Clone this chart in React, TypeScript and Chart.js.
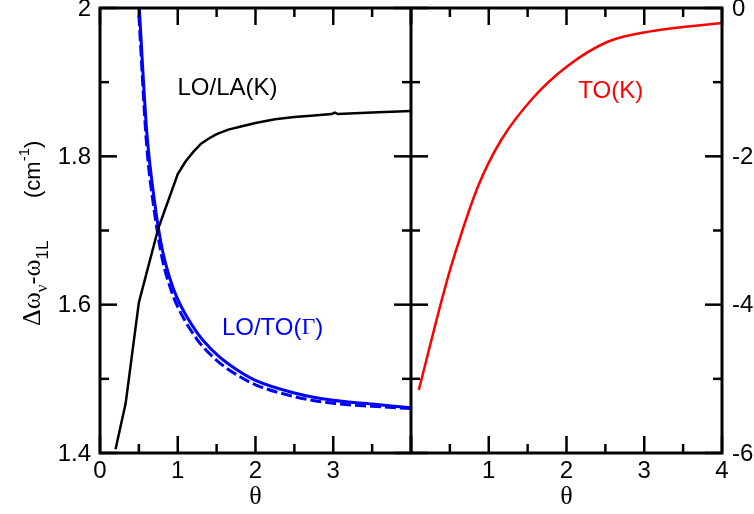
import React, { useEffect, useRef } from 'react';
import { Chart, registerables } from 'chart.js';

Chart.register(...registerables);

// ---- data (left panel: LO/LA(K), LO/TO(Γ); right panel: TO(K)) ----
const laTheta = [0.2, 0.33, 0.5, 0.75, 1.0, 1.1, 1.2, 1.3, 1.4, 1.5, 1.65, 1.8, 2.0, 2.25, 2.5, 2.75, 2.98, 3.02, 3.06, 3.5, 4.0];
const laValues = [1.405, 1.467, 1.603, 1.703, 1.776, 1.793, 1.806, 1.817, 1.824, 1.83, 1.836, 1.84, 1.845, 1.85, 1.853, 1.855, 1.857, 1.859, 1.857, 1.859, 1.861];

const gammaTheta = [0.5, 0.6, 0.7, 0.8, 0.9, 1.0, 1.25, 1.5, 1.75, 2.0, 2.5, 3.0, 3.5, 4.0];
const gammaSolid = [2.01, 1.835, 1.74, 1.675, 1.635, 1.607, 1.562, 1.533, 1.513, 1.498, 1.481, 1.471, 1.466, 1.461];
const gammaDashed = [1.99, 1.815, 1.725, 1.662, 1.624, 1.597, 1.553, 1.525, 1.506, 1.492, 1.476, 1.467, 1.463, 1.46];

const toKTheta = [0.1, 0.42, 0.54, 0.86, 1.16, 1.58, 2.01, 2.53, 3.08, 4.0];
const toKValues = [-5.15, -3.84, -3.4, -2.41, -1.78, -1.2, -0.785, -0.455, -0.315, -0.202];

// ---- ticks ----
const xTickLabels = ['0', '1', '2', '3', '', '1', '2', '3', '4'];
const leftYTickLabels = ['1.4', '1.6', '1.8', '2'];
const rightYTickLabels = ['-6', '-4', '-2', '0'];
const thetaMajor = [0, 1, 2, 3, 4];
const thetaMinor = [0.5, 1.5, 2.5, 3.5];
const leftYMajor = [1.4, 1.6, 1.8, 2.0];
const leftYMinor = [1.5, 1.7, 1.9];
const rightYMajor = [-6, -4, -2, 0];
const rightYMinor = [-5, -3, -1];

const SANS = '"Liberation Sans", Arial, sans-serif';
const SERIF = '"Liberation Serif", "Times New Roman", serif';
const BLUE = '#0000ff';
const RED = '#ff0000';

type Seg = { t: string; font: string; dy?: number };

function drawSegs(ctx: CanvasRenderingContext2D, segs: Seg[], x: number, y: number, align: 'center' | 'left') {
  let total = 0;
  for (const s of segs) {
    ctx.font = s.font;
    total += ctx.measureText(s.t).width;
  }
  let cx = align === 'center' ? x - total / 2 : x;
  ctx.textAlign = 'left';
  for (const s of segs) {
    ctx.font = s.font;
    ctx.fillText(s.t, cx, y + (s.dy || 0));
    cx += ctx.measureText(s.t).width;
  }
}

const framePlugin = {
  id: 'frameTicks',
  afterDatasetsDraw(chart: any) {
    const { ctx, chartArea } = chart;
    const { left, right, top, bottom } = chartArea;
    const x = chart.scales.x;
    const x2 = chart.scales.x2;
    const y = chart.scales.y;
    const y2 = chart.scales.y2;
    const mid = x.getPixelForValue(4);
    const MAJ = 17;
    const MIN = 9;
    ctx.save();
    ctx.strokeStyle = '#000';
    ctx.lineCap = 'butt';
    ctx.lineWidth = 2.5;
    const seg = (ax: number, ay: number, bx: number, by: number) => {
      ctx.beginPath();
      ctx.moveTo(ax, ay);
      ctx.lineTo(bx, by);
      ctx.stroke();
    };
    for (const sc of [x, x2]) {
      for (const v of thetaMajor) {
        const px = sc.getPixelForValue(v);
        seg(px, bottom, px, bottom - MAJ);
        seg(px, top, px, top + MAJ);
      }
      for (const v of thetaMinor) {
        const px = sc.getPixelForValue(v);
        seg(px, bottom, px, bottom - MIN);
        seg(px, top, px, top + MIN);
      }
    }
    for (const v of leftYMajor) {
      const py = y.getPixelForValue(v);
      seg(left, py, left + MAJ, py);
      seg(mid, py, mid - MAJ, py);
    }
    for (const v of leftYMinor) {
      const py = y.getPixelForValue(v);
      seg(left, py, left + MIN, py);
      seg(mid, py, mid - MIN, py);
    }
    for (const v of rightYMajor) {
      const py = y2.getPixelForValue(v);
      seg(mid, py, mid + MAJ, py);
      seg(right, py, right - MAJ, py);
    }
    for (const v of rightYMinor) {
      const py = y2.getPixelForValue(v);
      seg(mid, py, mid + MIN, py);
      seg(right, py, right - MIN, py);
    }
    ctx.lineWidth = 3;
    ctx.strokeRect(left, top, right - left, bottom - top);
    seg(mid, top, mid, bottom);

    // annotations
    ctx.textBaseline = 'middle';
    ctx.fillStyle = '#000';
    drawSegs(ctx, [{ t: 'LO/LA(K)', font: `24px ${SANS}` }], x.getPixelForValue(1.64), y.getPixelForValue(1.8915), 'center');
    ctx.fillStyle = BLUE;
    drawSegs(
      ctx,
      [
        { t: 'LO/TO(', font: `24px ${SANS}` },
        { t: 'Γ', font: `24px ${SERIF}` },
        { t: ')', font: `24px ${SANS}` },
      ],
      x.getPixelForValue(2.22),
      y.getPixelForValue(1.5685),
      'center'
    );
    ctx.fillStyle = RED;
    drawSegs(ctx, [{ t: 'TO(K)', font: `24px ${SANS}` }], x2.getPixelForValue(2.57), y2.getPixelForValue(-1.13), 'center');

    // x titles
    ctx.fillStyle = '#000';
    drawSegs(ctx, [{ t: 'θ', font: `26px ${SERIF}` }], x.getPixelForValue(2), bottom + 44, 'center');
    drawSegs(ctx, [{ t: 'θ', font: `26px ${SERIF}` }], x2.getPixelForValue(2), bottom + 44, 'center');

    // y title (rotated)
    ctx.save();
    ctx.translate(40, 326);
    ctx.rotate(-Math.PI / 2);
    ctx.textBaseline = 'alphabetic';
    drawSegs(
      ctx,
      [
        { t: 'Δω', font: `26px ${SERIF}` },
        { t: 'ν', font: `17px ${SERIF}`, dy: 7 },
        { t: '-', font: `24px ${SANS}` },
        { t: 'ω', font: `26px ${SERIF}` },
        { t: '1L', font: `17px ${SANS}`, dy: 8 },
      ],
      0,
      0,
      'left'
    );
    drawSegs(
      ctx,
      [
        { t: '(cm', font: `22px ${SANS}` },
        { t: '-1', font: `15px ${SANS}`, dy: -11 },
        { t: ')', font: `22px ${SANS}` },
      ],
      128,
      0,
      'left'
    );
    ctx.restore();
    ctx.restore();
  },
};

const tickFont = { family: SANS, size: 24 };

export default function App() {
  const ref = useRef<HTMLCanvasElement>(null);
  useEffect(() => {
    document.body.style.margin = '0';
    const laData = laTheta.map((t, i) => ({ x: t, y: laValues[i] }));
    const gsData = gammaTheta.map((t, i) => ({ x: t, y: gammaSolid[i] }));
    const gdData = gammaTheta.map((t, i) => ({ x: t, y: gammaDashed[i] }));
    const tkData = toKTheta.map((t, i) => ({ x: t, y: toKValues[i] }));
    const chart = new Chart(ref.current as HTMLCanvasElement, {
      type: 'line',
      data: {
        datasets: [
          { label: 'LO/LA(K)', data: laData, borderColor: '#000', borderWidth: 2.5, tension: 0, xAxisID: 'x', yAxisID: 'y' },
          { label: 'LO/TO(Γ) dashed', data: gdData, borderColor: BLUE, borderWidth: 3, borderDash: [11, 4], cubicInterpolationMode: 'monotone', xAxisID: 'x', yAxisID: 'y' },
          { label: 'LO/TO(Γ)', data: gsData, borderColor: BLUE, borderWidth: 3, cubicInterpolationMode: 'monotone', xAxisID: 'x', yAxisID: 'y' },
          { label: 'TO(K)', data: tkData, borderColor: RED, borderWidth: 2.5, cubicInterpolationMode: 'monotone', xAxisID: 'x2', yAxisID: 'y2' },
        ] as any,
      },
      options: {
        responsive: false,
        animation: false,
        devicePixelRatio: 1,
        layout: { padding: { top: 8, left: 0, right: 0, bottom: 0 } },
        plugins: { legend: { display: false }, tooltip: { enabled: false } },
        elements: { point: { radius: 0 } },
        scales: {
          x: {
            type: 'linear',
            min: 0,
            max: 8,
            position: 'bottom',
            ticks: {
              stepSize: 1,
              autoSkip: false,
              maxRotation: 0,
              padding: 4,
              color: '#000',
              font: tickFont,
              callback: (_v: any, i: number) => xTickLabels[i] ?? '',
            },
            grid: { display: false, drawTicks: false },
            border: { display: false },
            afterFit: (s: any) => {
              s.height = 61;
              s.paddingLeft = 0;
              s.paddingRight = 0;
            },
          },
          x2: { type: 'linear', min: -4, max: 4, display: false },
          y: {
            type: 'linear',
            position: 'left',
            min: 1.4,
            max: 2,
            ticks: {
              stepSize: 0.2,
              padding: 9,
              labelOffset: 1,
              color: '#000',
              font: tickFont,
              callback: (_v: any, i: number) => leftYTickLabels[i] ?? '',
            },
            grid: { display: false, drawTicks: false },
            border: { display: false },
            afterFit: (s: any) => {
              s.width = 100;
              s.paddingTop = 0;
              s.paddingBottom = 0;
            },
          },
          y2: {
            type: 'linear',
            position: 'right',
            min: -6,
            max: 0,
            ticks: {
              stepSize: 2,
              padding: 10,
              labelOffset: 1,
              color: '#000',
              font: tickFont,
              callback: (_v: any, i: number) => rightYTickLabels[i] ?? '',
            },
            grid: { display: false, drawTicks: false },
            border: { display: false },
            afterFit: (s: any) => {
              s.width = 32;
              s.paddingTop = 0;
              s.paddingBottom = 0;
            },
          },
        },
      } as any,
      plugins: [framePlugin],
    });
    return () => chart.destroy();
  }, []);
  return (
    <div style={{ position: 'absolute', left: 0, top: 0, width: 754, height: 514 }}>
      <canvas ref={ref} width={754} height={514} style={{ display: 'block' }} />
    </div>
  );
}
